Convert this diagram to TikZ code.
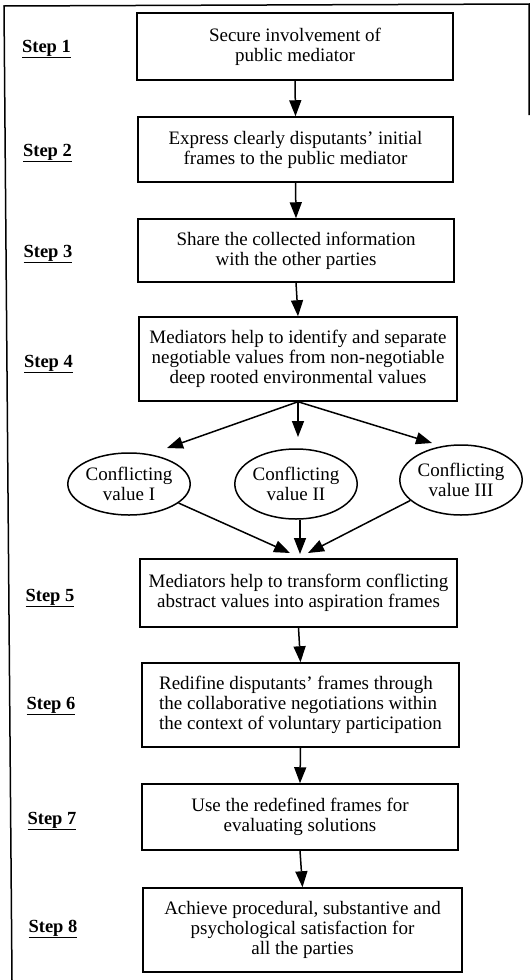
\documentclass[tikz,border=0pt]{standalone}
\usepackage{fontspec}
\setmainfont{Liberation Serif}
\usetikzlibrary{arrows.meta,shapes.geometric}
\begin{document}
\begin{tikzpicture}[x=1pt,y=-1pt,
  stepbox/.style={draw,line width=1.5pt,inner sep=2pt,align=center,
    font=\fontsize{19}{20}\selectfont},
  valbox/.style={draw,ellipse,line width=1.5pt,inner sep=0pt,align=center,
    minimum width=110pt,font=\fontsize{19}{19.5}\selectfont},
  steplabel/.style={font=\fontsize{18.5}{20}\selectfont\bfseries,inner sep=0pt},
  arr/.style={line width=1.5pt,-{Triangle[length=16pt,width=12pt]}},
  frame/.style={line width=1.5pt}]
\useasboundingbox (0,0) rectangle (531,980);
% outer frame
\coordinate (fl) at (12,980);
\coordinate (ftl) at (4,6);
\coordinate (ftr) at (529,4);
\coordinate (fr) at (529,115);
\draw[frame] (fl) -- (ftl) -- (ftr) -- (fr);
% boxes
\node[stepbox,minimum width=316pt,minimum height=67pt] (b1) at (295,46.5)
  {Secure involvement of\\public mediator};
\node[stepbox,minimum width=315pt,minimum height=65pt] (b2) at (295.5,149.5)
  {Express clearly disputants' initial\\frames to the public mediator};
\node[stepbox,minimum width=316pt,minimum height=63pt] (b3) at (296,250.5)
  {Share the collected information\\with the other parties};
\node[stepbox,minimum width=318pt,minimum height=84pt] (b4) at (298,359)
  {Mediators help to identify and separate\\negotiable values from non-negotiable\\deep rooted environmental values};
\node[stepbox,minimum width=317pt,minimum height=68pt] (b5) at (298.5,593)
  {Mediators help to transform conflicting\\abstract values into aspiration frames};
\node[stepbox,minimum width=317pt,minimum height=84pt,align=left] (b6) at (300.5,705)
  {Redifine disputants' frames through\\the collaborative negotiations within\\the context of voluntary participation};
\node[stepbox,minimum width=316pt,minimum height=66pt] (b7) at (300,817)
  {Use the redefined frames for\\evaluating solutions};
\node[stepbox,minimum width=319pt,minimum height=84pt] (b8) at (302.5,930)
  {Achieve procedural, substantive and\\psychological satisfaction for\\all the parties};
% ellipses
\node[valbox,minimum height=62pt] (e1) at (129,484) {Conflicting\\value I};
\node[valbox,minimum height=70pt] (e2) at (296,484) {Conflicting\\value II};
\node[valbox,minimum height=70pt] (e3) at (461,480) {Conflicting\\value III};
% step labels
\node[steplabel] (s1) at (46.5,49) {\underline{Step 1}};
\node[steplabel] (s2) at (47.5,153) {\underline{Step 2}};
\node[steplabel] (s3) at (48,254) {\underline{Step 3}};
\node[steplabel] (s4) at (48.5,364) {\underline{Step 4}};
\node[steplabel] (s5) at (50,598) {\underline{Step 5}};
\node[steplabel] (s6) at (51,706) {\underline{Step 6}};
\node[steplabel] (s7) at (52,821) {\underline{Step 7}};
\node[steplabel] (s8) at (53,929) {\underline{Step 8}};
% arrow targets
\coordinate (t1) at (167,448);
\coordinate (t2) at (298,437);
\coordinate (t3) at (432,443);
\coordinate (u1) at (290,553);
\coordinate (u2) at (300,554);
\coordinate (u3) at (308,553);
% arrows
\draw[arr] (b1.south) -- (b2.north);
\draw[arr] (b2.south) -- (b3.north);
\draw[arr] (b3.south) -- (b4.north);
\draw[arr] (b4.south) -- (t1);
\draw[arr] (b4.south) -- (t2);
\draw[arr] (b4.south) -- (t3);
\draw[arr] (e1.-21) -- (u1);
\draw[arr] (e2.south -| u2) -- (u2);
\draw[arr] (e3.202) -- (u3);
\draw[arr] (b5.south) -- (b6.north);
\draw[arr] (b6.south) -- (b7.north);
\draw[arr] (b7.south) -- (b8.north);
\end{tikzpicture}
\end{document}
